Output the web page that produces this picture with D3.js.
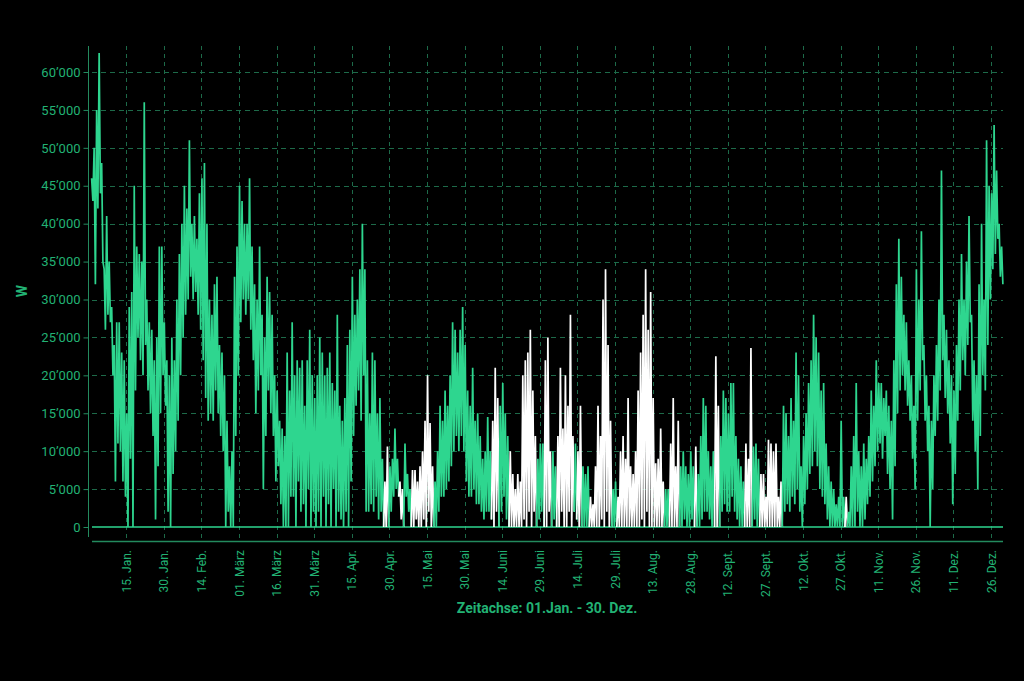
<!DOCTYPE html>
<html>
<head>
<meta charset="utf-8">
<script src="https://cdn.jsdelivr.net/npm/d3@7"></script>
<style>
  html, body { margin: 0; padding: 0; background: #000; }
  svg { display: block; font-family: Roboto, "Noto Sans", sans-serif; }
</style>
</head>
<body>
<svg id="chart" width="1024" height="681"></svg>
<script>
'use strict';

// daily peak / trough of the power series, in kW, from 01.Jan (day 0) to 30.Dez (day 363)
const peakKW = [
  46, 50, 55, 62.5, 48, 34, 41, 35, 29, 24,
  27, 27, 23, 22, 15, 29, 31, 45, 37, 36,
  35, 56, 30, 27, 26, 22, 25, 37, 37, 27,
  22, 20, 25, 22, 30, 36, 40, 45, 42, 51,
  40, 41, 38, 44, 46, 48, 40, 30, 28, 32,
  33, 24, 23, 20, 14, 8, 10, 33, 37, 45,
  43, 40, 40, 46, 37, 32, 30, 37, 28, 25,
  33, 31, 28, 20, 18, 14, 13, 12, 23, 18,
  27, 20, 22, 21, 22, 16, 22, 26, 20, 17,
  20, 25, 23, 20, 21, 23, 19, 18, 28, 16,
  14, 17, 24, 26, 33, 28, 30, 34, 40, 34,
  22, 15, 23, 22, 15, 17, 9, 6, 10.6, 8,
  9, 13, 9, 6, 5, 11, 7, 5, 7.5, 7.5,
  6, 8, 10, 14, 20, 13.7, 8, 6, 10, 16,
  14, 18, 16, 20, 27, 26, 23, 26, 29, 24,
  18, 16, 21, 14, 15, 12, 9, 10, 14.5, 10,
  14, 21, 17, 16, 19, 15, 12, 10, 7, 5,
  7, 6, 20, 22, 23, 26, 18, 12, 9, 11,
  11, 22, 25, 10, 10, 8, 12, 21, 13, 20,
  16, 28, 12, 11, 10, 16, 8, 7, 8, 4,
  3, 8, 16, 12, 30, 34, 24, 14, 5, 6,
  4, 10, 12, 9, 17, 8, 7, 10, 18, 23,
  28, 34, 26, 31, 17, 8.4, 9, 13, 6, 5,
  5, 11, 17, 8, 14, 8, 10, 8, 7, 10,
  8, 10.6, 7, 12, 17, 16, 10, 8, 10, 22.5,
  16, 12, 18, 17, 15, 19, 19, 12, 9, 8,
  6, 11, 9, 23.6, 10.6, 11, 9, 7, 7, 4,
  11.5, 11, 10, 11, 4, 6, 16, 15, 12, 17,
  14, 23, 20, 8, 12, 15, 19, 22, 28, 25,
  23, 18, 19, 11, 8, 6, 5, 3, 4, 14,
  4, 4, 2, 8, 12, 19, 10, 8, 11, 9,
  12, 18, 16, 22, 19, 19, 17, 18, 16, 14,
  22, 32, 38, 33, 28, 27, 22, 20, 16, 34,
  30, 39, 24, 20, 16, 14, 20, 24, 30, 47,
  28, 26, 22, 20, 18, 24, 30, 36, 30, 35,
  41, 28, 22, 20, 32, 40, 30, 51, 45, 44,
  53, 47, 40, 37
];
const lowKW = [
  43, 32, 42, 44, 35, 26, 28, 27, 20, 6,
  11, 10, 6, 4, 0, 9, 0, 18, 25, 22,
  20, 24, 18, 15, 12, 1, 8, 15, 20, 16,
  2, 0, 7, 10, 14, 20, 25, 28, 30, 33,
  30, 31, 28, 26, 22, 17, 14, 15, 14, 18,
  15, 12, 10, 0, 2, 0, 0, 12, 20, 27,
  30, 28, 30, 26, 22, 15, 18, 20, 5, 12,
  18, 15, 12, 6, 8, 3, 0, 0, 0, 4,
  4, 0, 6, 2, 3, 0, 5, 0, 2, 0,
  2, 0, 4, 0, 3, 0, 5, 0, 2, 1,
  0, 2, 0, 6, 12, 16, 18, 14, 20, 2,
  2, 3, 2, 4, 1, 2, 0, 0, 0, 2,
  4, 5, 4, 1, 0, 4, 2, 0, 0, 1,
  0, 0, 1, 0, 2, 0, 0, 0, 2, 4,
  4, 5, 6, 8, 10, 12, 10, 12, 10, 6,
  4, 4, 5, 3, 3, 2, 1, 2, 2, 1,
  0, 2, 0, 2, 4, 1, 0, 0, 0, 0,
  0, 0, 1, 0, 2, 0, 2, 0, 1, 2,
  0, 0, 2, 0, 1, 0, 0, 2, 0, 0,
  2, 0, 2, 1, 0, 0, 0, 0, 0, 0,
  0, 0, 0, 1, 0, 2, 0, 0, 0, 0,
  0, 0, 0, 0, 0, 0, 0, 0, 0, 1,
  0, 2, 0, 0, 0, 0, 0, 0, 0, 0,
  0, 0, 0, 0, 0, 0, 1, 0, 0, 1,
  0, 0, 0, 1, 2, 2, 1, 0, 0, 0,
  0, 2, 3, 2, 2, 4, 2, 1, 0, 0,
  0, 0, 0, 0, 1, 0, 0, 0, 0, 0,
  0, 0, 0, 0, 0, 0, 2, 3, 2, 4,
  3, 5, 2, 0, 3, 5, 7, 8, 10, 8,
  5, 4, 3, 1, 0, 0, 0, 0, 0, 0,
  0, 0, 0, 0, 0, 2, 0, 0, 1, 3,
  4, 6, 8, 10, 11, 9, 12, 7, 5, 1,
  8, 15, 18, 20, 18, 16, 14, 9, 5, 14,
  18, 22, 14, 10, 0, 5, 12, 14, 18, 22,
  17, 15, 11, 3, 7, 14, 18, 22, 20, 24,
  27, 14, 10, 5, 12, 20, 18, 24, 30, 34,
  36, 38, 33, 32
];

// days (first, last) whose part of the line is drawn white
const whiteRanges = [
  [117, 118], [123, 124], [128, 136], [160, 162], [167, 177], [181, 183],
  [186, 192], [194, 195], [199, 207], [210, 228], [231, 234], [241, 241],
  [249, 250], [261, 263], [267, 275], [301, 301]
];

const yTickValues = [0, 5000, 10000, 15000, 20000, 25000, 30000, 35000, 40000, 45000, 50000, 55000, 60000];
const xTickLabels = ['15. Jan.', '30. Jan.', '14. Feb.', '01. März', '16. März', '31. März',
  '15. Apr.', '30. Apr.', '15. Mai', '30. Mai', '14. Juni', '29. Juni', '14. Juli', '29. Juli',
  '13. Aug.', '28. Aug.', '12. Sept.', '27. Sept.', '12. Okt.', '27. Okt.', '11. Nov.', '26. Nov.',
  '11. Dez.', '26. Dez.'];
const xTickStep = 15; // days between labels, first one on 15.Jan

const lineGreen = '#2ed68f';
const lineWhite = '#ffffff';
const textGreen = '#22b274';
const gridGreen = '#1d6a49';
const axisGreen = '#238a5e';

const svg = d3.select('#chart');
svg.append('rect').attr('width', 1024).attr('height', 681).attr('fill', '#000');

const year = 2023;
const dayTime = (d, h) => new Date(year, 0, 1 + d, h);

const x = d3.scaleTime()
  .domain([new Date(year, 0, 1), new Date(year, 11, 31)])
  .range([91, 1003.5]);
const y = d3.scaleLinear()
  .domain([0, 63430])
  .range([527, 46]);

const xTickDates = xTickLabels.map((l, i) => dayTime(14 + i * xTickStep, 0));

// grid
const grid = svg.append('g');
grid.selectAll('.vgrid')
  .data(xTickDates)
  .enter().append('line')
  .attr('class', 'vgrid')
  .attr('x1', d => Math.round(x(d)) + 0.5).attr('x2', d => Math.round(x(d)) + 0.5)
  .attr('y1', 46).attr('y2', 541)
  .attr('stroke', gridGreen).attr('stroke-width', 1)
  .attr('stroke-dasharray', '4,4');
grid.selectAll('.hgrid')
  .data(yTickValues.filter(v => v > 0))
  .enter().append('line')
  .attr('class', 'hgrid')
  .attr('x1', 92).attr('x2', 1003)
  .attr('y1', d => Math.round(y(d)) + 0.5).attr('y2', d => Math.round(y(d)) + 0.5)
  .attr('stroke', gridGreen).attr('stroke-width', 1)
  .attr('stroke-dasharray', '5,4');

// y axis
const yAxis = d3.axisLeft(y)
  .tickValues(yTickValues)
  .tickSize(5)
  .tickPadding(3)
  .tickFormat(v => v === 0 ? '0' : d3.format(',')(v).replace(/,/g, '\u2019'));
const gy = svg.append('g').attr('transform', 'translate(88.5,0)').call(yAxis);
gy.select('.domain').remove();
gy.selectAll('line').attr('stroke', axisGreen);
gy.selectAll('text')
  .attr('fill', textGreen)
  .style('font-size', '13px')
  .style('font-family', 'Roboto, sans-serif');
svg.append('line')
  .attr('x1', 88.5).attr('x2', 88.5).attr('y1', 46).attr('y2', 537)
  .attr('stroke', axisGreen).attr('stroke-width', 1);

// x axis
const xAxis = d3.axisBottom(x)
  .tickValues(xTickDates)
  .tickSize(0)
  .tickFormat((d, i) => xTickLabels[i]);
const gx = svg.append('g').attr('transform', 'translate(0,541)').call(xAxis);
gx.select('.domain').remove();
gx.selectAll('text')
  .attr('fill', textGreen)
  .style('font-size', '12px')
  .style('font-family', 'Roboto, sans-serif')
  .attr('transform', 'rotate(-90)')
  .attr('text-anchor', 'end')
  .attr('x', -9)
  .attr('y', 0)
  .attr('dy', '0.35em');
svg.append('line')
  .attr('x1', 92).attr('x2', 1003).attr('y1', 541.5).attr('y2', 541.5)
  .attr('stroke', axisGreen).attr('stroke-width', 1.5);

// zero line
svg.append('line')
  .attr('x1', 92).attr('x2', 1003).attr('y1', y(0)).attr('y2', y(0))
  .attr('stroke', lineGreen).attr('stroke-width', 1.5);

// data: one line, split into runs of days with the same colour
const isWhite = d => whiteRanges.some(r => d >= r[0] && d <= r[1]);
const runs = [];
peakKW.forEach((v, i) => {
  const white = isWhite(i);
  let run = runs[runs.length - 1];
  if (!run || run.white !== white) {
    run = {white: white, pts: []};
    if (i > 0) run.pts.push({t: dayTime(i - 1, 18), v: lowKW[i - 1] * 1000});
    runs.push(run);
  }
  run.pts.push({t: dayTime(i, 6), v: v * 1000});
  run.pts.push({t: dayTime(i, 18), v: lowKW[i] * 1000});
});

const line = d3.line().x(d => x(d.t)).y(d => y(d.v));

svg.append('g')
  .selectAll('path')
  .data(runs)
  .enter().append('path')
  .attr('d', d => line(d.pts))
  .attr('fill', 'none')
  .attr('stroke', d => d.white ? lineWhite : lineGreen)
  .attr('stroke-width', 1.7);

// titles
svg.append('text')
  .attr('x', 547).attr('y', 613)
  .attr('text-anchor', 'middle')
  .attr('fill', textGreen)
  .style('font-size', '14px')
  .style('font-weight', 'bold')
  .text('Zeitachse: 01.Jan. - 30. Dez.');

svg.append('text')
  .attr('transform', 'translate(27,291) rotate(-90)')
  .attr('text-anchor', 'middle')
  .attr('fill', textGreen)
  .style('font-size', '14px')
  .style('font-weight', 'bold')
  .text('W');
</script>
</body>
</html>
